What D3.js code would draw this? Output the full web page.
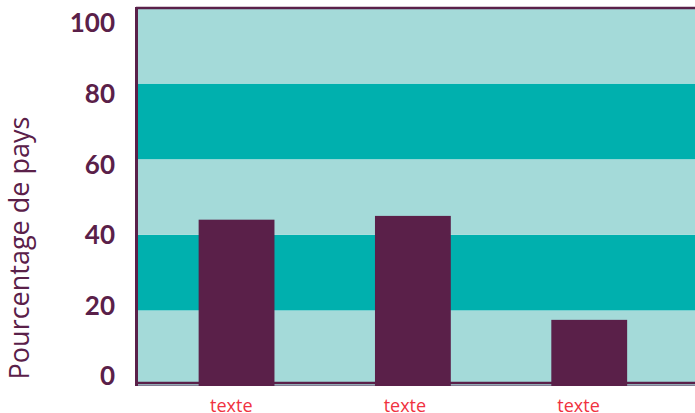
<!DOCTYPE html>
<html>
<head>
<meta charset="utf-8">
<script src="https://cdn.jsdelivr.net/npm/d3@7"></script>
<style>
  body { margin: 0; background: #fff; }
  svg { display: block; }
</style>
</head>
<body>
<div id="chart"></div>
<script>
// Chart size
const width = 695;
const height = 413;

// Data
const categories = ["A", "B", "C"];
const labels = ["texte", "texte", "texte"];
const values = [44, 45, 17.5];
const tickValues = [0, 20, 40, 60, 80, 100];
const bands = [[0, 20], [20, 40], [40, 60], [60, 80], [80, 100]];

const purple = "#5a2049";
const light = "#a4dad9";
const dark = "#00b0ae";

const margin = {top: 8, right: 0, bottom: 27, left: 137};

const svg = d3.create("svg")
    .attr("width", width)
    .attr("height", height);

// Value scale for bands and bars
const y = d3.scaleLinear()
    .domain([0, 100])
    .range([height - margin.bottom, margin.top]);

// Tick labels sit on their own, tighter spacing
const yLabel = d3.scaleLinear()
    .domain([0, 100])
    .range([376, 23]);

const x = d3.scaleBand()
    .domain(categories)
    .range([margin.left - 1, width])
    .paddingInner(0.57)
    .paddingOuter(0.37)
    .align(0.48);

const xLabel = d3.scalePoint()
    .domain(categories)
    .range([margin.left - 1, width])
    .padding(0.61)
    .align(0.45);

// Alternating background bands
svg.append("g")
    .selectAll("rect")
    .data(bands)
    .join("rect")
    .attr("x", margin.left)
    .attr("width", width - margin.left)
    .attr("y", d => y(d[1]))
    .attr("height", d => y(d[0]) - y(d[1]))
    .attr("fill", (d, i) => i % 2 === 0 ? light : dark);

// Frame lines
svg.append("line")
    .attr("x1", margin.left - 1).attr("x2", width)
    .attr("y1", y(100)).attr("y2", y(100))
    .attr("stroke", purple).attr("stroke-width", 2.5);

svg.append("line")
    .attr("x1", margin.left - 1).attr("x2", width)
    .attr("y1", y(0) - 0.5).attr("y2", y(0) - 0.5)
    .attr("stroke", "#857b94").attr("stroke-width", 1);

svg.append("line")
    .attr("x1", margin.left - 1).attr("x2", width)
    .attr("y1", y(0) - 3).attr("y2", y(0) - 3)
    .attr("stroke", purple).attr("stroke-width", 2.5);

svg.append("line")
    .attr("x1", margin.left - 0.5).attr("x2", margin.left - 0.5)
    .attr("y1", y(100) - 1).attr("y2", y(0))
    .attr("stroke", purple).attr("stroke-width", 3);

// Bars
svg.append("g")
    .selectAll("rect")
    .data(values)
    .join("rect")
    .attr("x", (d, i) => x(categories[i]))
    .attr("width", x.bandwidth())
    .attr("y", d => y(d))
    .attr("height", d => y(0) - y(d))
    .attr("fill", purple);

// Y tick labels
svg.append("g")
    .attr("font-family", "Lato, sans-serif")
    .attr("font-weight", "bold")
    .attr("font-size", 26)
    .attr("fill", purple)
    .attr("text-anchor", "end")
    .selectAll("text")
    .data(tickValues)
    .join("text")
    .attr("x", 115)
    .attr("y", d => yLabel(d))
    .attr("dy", "0.36em")
    .text(d => d);

// X labels
svg.append("g")
    .attr("font-family", "'Open Sans', sans-serif")
    .attr("font-size", 18)
    .attr("fill", "#f0323f")
    .attr("text-anchor", "middle")
    .selectAll("text")
    .data(labels)
    .join("text")
    .attr("x", (d, i) => xLabel(categories[i]))
    .attr("y", 412)
    .text(d => d);

// Y axis title
svg.append("text")
    .attr("transform", "translate(29,248) rotate(-90)")
    .attr("font-family", "'Open Sans', sans-serif")
    .attr("font-size", 27)
    .attr("fill", purple)
    .attr("text-anchor", "middle")
    .text("Pourcentage de pays");

d3.select("#chart").append(() => svg.node());
</script>
</body>
</html>
